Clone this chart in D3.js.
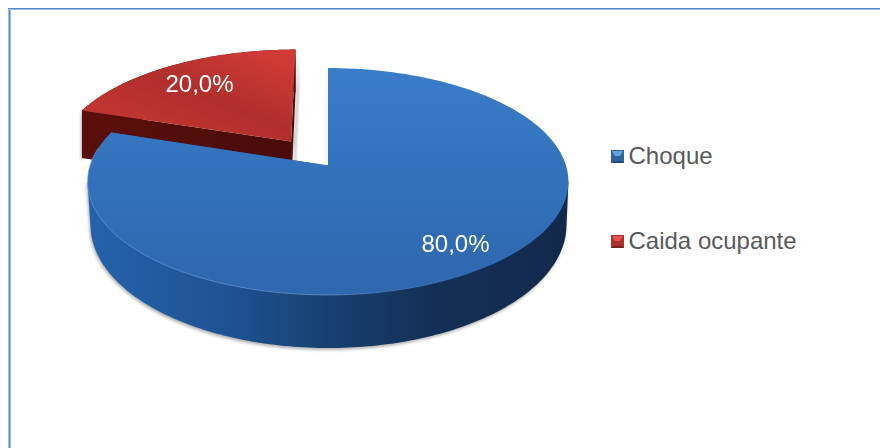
<!DOCTYPE html>
<html>
<head>
<meta charset="utf-8">
<script src="https://cdnjs.cloudflare.com/ajax/libs/d3/7.8.5/d3.min.js"></script>
<style>
html,body{margin:0;padding:0;background:#fff}
svg{display:block}
text{font-family:"Liberation Sans",Arial,sans-serif}
</style>
</head>
<body>
<svg id="chart" width="880" height="448"></svg>
<script>
const categories = ["Choque", "Caida ocupante"];
const shares = [80.0, 20.0];
const labels = ["80,0%", "20,0%"];

const svg = d3.select("#chart");
const defs = svg.append("defs");

// Tilted disc: unit-circle coordinates to screen, with a small perspective term.
const persp = -0.1411;
const topPlane = {cx: 328, cy: 165.5, ax: 238, by: 111.2};
const project = (plane, u, v) => {
  const d = 1 + persp * v;
  return [plane.cx + plane.ax * u / d, plane.cy + plane.by * v / d];
};

const pie = d3.pie().sort(null).value(d => d)(shares);
const polar = (a, o) => [o[0] + Math.sin(a), o[1] - Math.cos(a)];
const line = d3.line();
const steps = 160;
const sweep = (start, end) => d3.range(steps + 1).map(i => start + (end - start) * i / steps);
const rimPoints = (plane, start, end, o) => sweep(start, end).map(a => {
  const q = polar(a, o);
  return project(plane, q[0], q[1]);
});

const sectorPath = (plane, p, o) =>
  line([project(plane, o[0], o[1])].concat(rimPoints(plane, p.startAngle, p.endAngle, o))) + "Z";

// Wall between the top and base planes along the rim.
const rimPath = (p, o, base) =>
  line(rimPoints(topPlane, p.startAngle, p.endAngle, o)
    .concat(rimPoints(base, p.startAngle, p.endAngle, o).reverse())) + "Z";

// Front of the body: outline around the near halves of both planes.
const frontPath = (o, base) => {
  const a0 = Math.PI * 98 / 180, a1 = Math.PI * 262 / 180;
  const hull = d3.polygonHull(rimPoints(topPlane, a0, a1, o).concat(rimPoints(base, a0, a1, o)));
  return line(hull) + "Z";
};

// Flat cut face running from the centre of the sector to one rim point.
const cutPath = (a, o, base) => {
  const q = polar(a, o);
  return line([
    project(topPlane, o[0], o[1]),
    project(topPlane, q[0], q[1]),
    project(base, q[0], q[1]),
    project(base, o[0], o[1])
  ]) + "Z";
};

function gradient(id, attrs, stops) {
  const g = defs.append("linearGradient").attr("id", id).attr("gradientUnits", "userSpaceOnUse");
  Object.entries(attrs).forEach(([k, v]) => g.attr(k, v));
  stops.forEach(s => {
    const st = g.append("stop").attr("offset", s[0]).attr("stop-color", s[1]);
    if (s[2] !== undefined) st.attr("stop-opacity", s[2]);
  });
}
gradient("blueTop", {x1: 330, y1: 68, x2: 330, y2: 296}, [[0, "#3a7dc9"], [0.5, "#3271ba"], [1, "#2e67ae"]]);
gradient("blueSide", {x1: 90, y1: 0, x2: 568, y2: 0}, [[0, "#2562ab"], [0.28, "#1e5395"], [0.5, "#174070"], [0.72, "#142f57"], [1, "#12294b"]]);
gradient("redTop", {x1: 250, y1: 48, x2: 210, y2: 150}, [[0, "#d03a36"], [0.55, "#b02f2b"], [1, "#c03430"]]);
gradient("redSide", {x1: 80, y1: 0, x2: 295, y2: 0}, [[0, "#5c0f0c"], [1, "#480c09"]]);
gradient("rimLight", {x1: 90, y1: 0, x2: 568, y2: 0}, [[0, "#6ea3e0", 0.55], [0.5, "#6ea3e0", 0.6], [0.8, "#6ea3e0", 0], [1, "#6ea3e0", 0]]);

const blur = defs.append("filter").attr("id", "softEdge").attr("x", "-5%").attr("y", "-5%").attr("width", "110%").attr("height", "110%");
blur.append("feGaussianBlur").attr("stdDeviation", 1.5);

// Chart frame: only the top and left edges fall inside the page.
svg.append("path").attr("d", "M9.5,448V10").attr("stroke", "#a3c0e8").attr("stroke-width", 3).attr("fill", "none");
svg.append("path").attr("d", "M9.5,448V9").attr("stroke", "#4f86cc").attr("stroke-width", 1).attr("fill", "none");
svg.append("path").attr("d", "M8,9.5H880").attr("stroke", "#9dbce6").attr("stroke-width", 1).attr("fill", "none");
svg.append("path").attr("d", "M8,8.5H880").attr("stroke", "#4f86cc").attr("stroke-width", 1).attr("fill", "none");

const faces = [
  {offset: [0, 0], top: "url(#blueTop)", side: "url(#blueSide)",
   base: {cx: 328.5, cy: 207.6, ax: 235.6, by: 120.6}, shadowShift: "translate(-2,1)"},
  {offset: [-0.16, -0.222], top: "url(#redTop)", side: "url(#redSide)",
   base: {cx: 328, cy: 217.6, ax: 238, by: 120.6}, shadowShift: "translate(3,1)"}
];

// The detached slice sits behind the main body, so it is drawn first.
[1, 0].forEach(i => {
  const p = pie[i], f = faces[i], o = f.offset;
  const wall = i === 0 ? frontPath(o, f.base) : rimPath(p, o, f.base);
  const g = svg.append("g");
  const shadow = g.append("g").attr("filter", "url(#softEdge)").attr("fill", "#8f8f8f").attr("opacity", 0.7);
  shadow.append("path").attr("d", wall).attr("transform", "translate(-1,2)");
  shadow.append("path").attr("d", cutPath(i === 0 ? p.startAngle : p.endAngle, o, f.base)).attr("transform", f.shadowShift);
  g.append("path").attr("d", wall).attr("fill", f.side);
  g.append("path").attr("d", cutPath(p.startAngle, o, f.base)).attr("fill", f.side);
  g.append("path").attr("d", cutPath(p.endAngle, o, f.base)).attr("fill", f.side);
  g.append("path").attr("d", sectorPath(topPlane, p, o)).attr("fill", f.top);
});

// Thin highlight along the front rim of the main body.
svg.append("path")
  .attr("d", line(rimPoints(topPlane, Math.PI * 0.55, Math.PI * 1.55, [0, 0])))
  .attr("fill", "none").attr("stroke", "url(#rimLight)").attr("stroke-width", 1);

// Percentage labels.
const labelPos = [[455.5, 252], [199.5, 92]];
labels.forEach((t, i) => {
  svg.append("text").attr("x", labelPos[i][0]).attr("y", labelPos[i][1])
    .attr("text-anchor", "middle")
    .attr("font-size", 24).attr("fill", "#ffffff").text(t);
});

// Legend with bevelled swatches.
const keyColors = [["#66a3e6", "#2f649f", "#1f4a7e"], ["#e4534e", "#ab2f2b", "#7d1f1c"]];
const legendY = d3.scalePoint().domain(categories).range([164, 249]);
categories.forEach((c, i) => {
  const y = legendY(c), x = 611, s = 13;
  const k = svg.append("g").attr("transform", `translate(${x},${y - 14})`);
  k.append("rect").attr("width", s).attr("height", s).attr("fill", keyColors[i][1]);
  k.append("path").attr("d", `M1,1H${s - 1}L${s - 4},6H4Z`).attr("fill", keyColors[i][0]);
  k.append("path").attr("d", `M0,${s}H${s}L${s - 2},${s - 2}H2Z`).attr("fill", keyColors[i][2]);
  svg.append("text").attr("x", 628.5).attr("y", y)
    .attr("font-size", 24).attr("fill", "#595959").text(c);
});
</script>
</body>
</html>
